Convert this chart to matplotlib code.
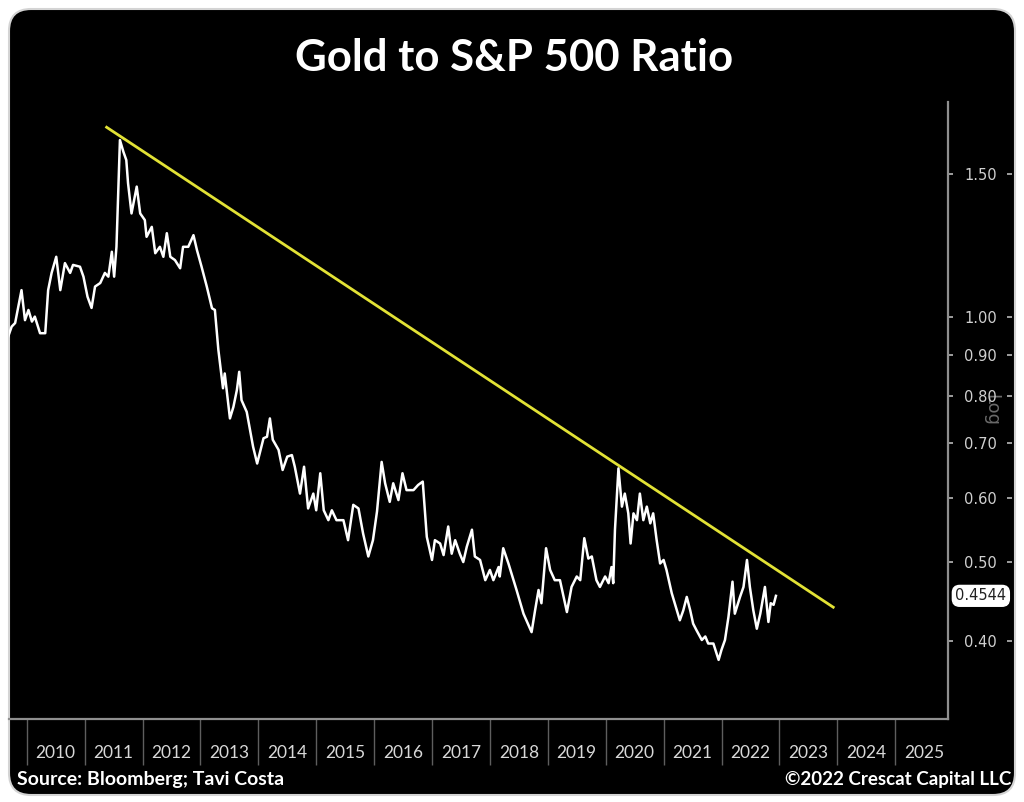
import matplotlib
matplotlib.use('Agg')
import matplotlib.pyplot as plt
from matplotlib.patches import FancyBboxPatch
from matplotlib.ticker import FixedLocator, NullLocator, NullFormatter, FixedFormatter
import matplotlib.transforms as mtransforms

dates = [
    2009.68, 2009.74, 2009.80, 2009.91, 2009.97, 2010.03, 2010.09, 2010.14, 2010.23, 2010.32,
    2010.37, 2010.43, 2010.51, 2010.58, 2010.66, 2010.75, 2010.80, 2010.92, 2010.98, 2011.05,
    2011.12, 2011.18, 2011.27, 2011.35, 2011.41, 2011.47, 2011.51, 2011.55, 2011.61, 2011.67,
    2011.72, 2011.75, 2011.81, 2011.90, 2011.96, 2012.04, 2012.07, 2012.16, 2012.22, 2012.30,
    2012.36, 2012.42, 2012.48, 2012.56, 2012.65, 2012.70, 2012.79, 2012.88, 2012.94, 2013.02,
    2013.11, 2013.20, 2013.25, 2013.31, 2013.39, 2013.42, 2013.51, 2013.57, 2013.63, 2013.67,
    2013.71, 2013.80, 2013.91, 2013.98, 2014.09, 2014.15, 2014.20, 2014.25, 2014.35, 2014.42,
    2014.50, 2014.58, 2014.63, 2014.72, 2014.79, 2014.86, 2014.95, 2015.00, 2015.07, 2015.13,
    2015.21, 2015.27, 2015.35, 2015.47, 2015.55, 2015.64, 2015.73, 2015.81, 2015.90, 2015.98,
    2016.05, 2016.13, 2016.19, 2016.27, 2016.33, 2016.42, 2016.49, 2016.56, 2016.68, 2016.76,
    2016.84, 2016.91, 2017.00, 2017.05, 2017.14, 2017.20, 2017.28, 2017.34, 2017.40, 2017.48,
    2017.54, 2017.60, 2017.69, 2017.74, 2017.83, 2017.92, 2018.00, 2018.06, 2018.15, 2018.17,
    2018.23, 2018.32, 2018.46, 2018.58, 2018.72, 2018.78, 2018.84, 2018.89, 2018.97, 2019.04,
    2019.12, 2019.21, 2019.33, 2019.41, 2019.50, 2019.56, 2019.63, 2019.70, 2019.76, 2019.84,
    2019.90, 2019.99, 2020.05, 2020.10, 2020.13, 2020.16, 2020.22, 2020.28, 2020.33, 2020.39,
    2020.43, 2020.48, 2020.54, 2020.59, 2020.65, 2020.71, 2020.77, 2020.82, 2020.88, 2020.94,
    2021.00, 2021.05, 2021.14, 2021.23, 2021.28, 2021.34, 2021.40, 2021.46, 2021.51, 2021.57,
    2021.66, 2021.72, 2021.77, 2021.86, 2021.95, 2022.00, 2022.06, 2022.12, 2022.19, 2022.23,
    2022.32, 2022.38, 2022.44, 2022.49, 2022.55, 2022.61, 2022.67, 2022.75, 2022.81, 2022.85,
    2022.90, 2022.94,
]

ratio = [
    0.947, 0.974, 0.984, 1.080, 0.992, 1.021, 0.988, 1.002, 0.956, 0.956,
    1.080, 1.134, 1.187, 1.080, 1.166, 1.134, 1.160, 1.154, 1.122, 1.060,
    1.027, 1.091, 1.102, 1.134, 1.122, 1.204, 1.122, 1.221, 1.652, 1.598,
    1.561, 1.462, 1.342, 1.448, 1.342, 1.317, 1.256, 1.292, 1.199, 1.221,
    1.187, 1.269, 1.187, 1.176, 1.149, 1.221, 1.221, 1.262, 1.210, 1.154,
    1.091, 1.026, 1.021, 0.912, 0.818, 0.853, 0.751, 0.776, 0.814, 0.857,
    0.791, 0.765, 0.693, 0.661, 0.710, 0.713, 0.751, 0.707, 0.687, 0.649,
    0.674, 0.677, 0.655, 0.607, 0.655, 0.582, 0.607, 0.579, 0.643, 0.579,
    0.563, 0.579, 0.563, 0.563, 0.532, 0.588, 0.582, 0.542, 0.508, 0.532,
    0.577, 0.664, 0.625, 0.593, 0.625, 0.596, 0.643, 0.613, 0.613, 0.622,
    0.628, 0.537, 0.503, 0.532, 0.527, 0.510, 0.553, 0.512, 0.532, 0.512,
    0.500, 0.522, 0.548, 0.508, 0.503, 0.475, 0.489, 0.475, 0.493, 0.480,
    0.520, 0.498, 0.462, 0.432, 0.410, 0.436, 0.462, 0.445, 0.520, 0.489,
    0.475, 0.475, 0.434, 0.466, 0.480, 0.475, 0.535, 0.505, 0.508, 0.475,
    0.466, 0.480, 0.471, 0.493, 0.471, 0.548, 0.652, 0.585, 0.607, 0.574,
    0.527, 0.574, 0.563, 0.607, 0.563, 0.585, 0.558, 0.574, 0.532, 0.498,
    0.503, 0.489, 0.458, 0.436, 0.424, 0.436, 0.453, 0.436, 0.420, 0.412,
    0.401, 0.405, 0.397, 0.397, 0.379, 0.390, 0.401, 0.428, 0.473, 0.432,
    0.453, 0.466, 0.503, 0.466, 0.436, 0.414, 0.432, 0.466, 0.422, 0.445,
    0.443, 0.4544,
]

trend_dates = [2011.38, 2023.93]
trend_vals = [1.713, 0.440]

ytick_vals = [0.40, 0.50, 0.60, 0.70, 0.80, 0.90, 1.00, 1.50]
ytick_labels = ['0.40', '0.50', '0.60', '0.70', '0.80', '0.90', '1.00', '1.50']
years = list(range(2010, 2026))
year_labels = [str(y) for y in years]
last_value = 0.4544
last_label = '0.4544'

title = 'Gold to S&P 500 Ratio'
source = 'Source: Bloomberg; Tavi Costa'
credit = '\u00a92022 Crescat Capital LLC'

CAL = ['Lato', 'DejaVu Sans']

W, H = 1024, 802
fig = plt.figure(figsize=(W / 100, H / 100), dpi=100)
fig.patch.set_facecolor('white')

bg = fig.add_axes([0, 0, 1, 1])
bg.set_xlim(0, W)
bg.set_ylim(H, 0)
bg.axis('off')
bg.add_patch(FancyBboxPatch((9, 9), 1006, 786,
                            boxstyle='round,pad=0,rounding_size=22',
                            fc='black', ec='#d4d4d4', lw=1.5, zorder=1))

ax = fig.add_axes([9 / W, (H - 719) / H, 939 / W, 617 / H])
ax.set_facecolor('none')
ax.set_yscale('log')
ax.plot(dates, ratio, color='white', lw=1.8, solid_joinstyle='round', zorder=3)
ax.plot(trend_dates, trend_vals, color='#e2e235', lw=2.0, zorder=4)
ax.set_xlim(2009.694, 2025.912)
ax.set_ylim(0.3206, 1.84)

ax2 = ax.twinx()
ax2.set_yscale('log')
ax2.set_ylim(0.3206, 1.84)
for s in ax2.spines.values():
    s.set_visible(False)
ax2.spines['right'].set_position(('outward', 46))
ax2.yaxis.set_major_locator(FixedLocator(ytick_vals))
ax2.yaxis.set_minor_locator(NullLocator())
ax2.yaxis.set_major_formatter(NullFormatter())
ax2.tick_params(axis='y', direction='in', length=3.5, width=1.2, color='#b8b8b8')

ax.yaxis.tick_right()
ax.yaxis.set_major_locator(FixedLocator(ytick_vals))
ax.yaxis.set_minor_locator(NullLocator())
ax.yaxis.set_major_formatter(FixedFormatter(ytick_labels))
ax.yaxis.set_minor_formatter(NullFormatter())
ax.tick_params(axis='y', which='major', direction='out', length=3.5, width=1.2,
               color='#b8b8b8', labelcolor='#d0d0d0', labelsize=10.5, pad=8)

ax.xaxis.set_major_locator(FixedLocator(years))
ax.xaxis.set_major_formatter(NullFormatter())
ax.xaxis.set_minor_locator(FixedLocator([y + 0.5 for y in years]))
ax.xaxis.set_minor_formatter(FixedFormatter(year_labels))
ax.tick_params(axis='x', which='major', direction='out', length=33, width=1,
               color='#5e5e5e')
ax.tick_params(axis='x', which='minor', length=0, pad=19, labelcolor='#d8d8d8',
               labelsize=12.5)
for lbl in ax.get_xticklabels(minor=True):
    lbl.set_family(CAL)

for side in ('left', 'top'):
    ax.spines[side].set_visible(False)
for side in ('right', 'bottom'):
    ax.spines[side].set_color('#8f8f8f')
    ax.spines[side].set_linewidth(1.6)

blend = mtransforms.blended_transform_factory(ax.transAxes, ax.transData)
ax.text(1.035, last_value, last_label, transform=blend, ha='center', va='center',
        fontsize=10.5, color='#222222', zorder=6, clip_on=False,
        bbox=dict(boxstyle='round,pad=0.2,rounding_size=0.5', fc='white', ec='white'))

bg.text(991, 410, 'Log', rotation=270, ha='center', va='center', color='#6a6a6a',
        fontsize=13, zorder=2)

bg.text(514, 58, title, ha='center', va='center', color='white', fontsize=31.5,
        fontweight='bold', family=CAL, zorder=3)
bg.text(17, 779, source, ha='left', va='center', color='white', fontsize=14,
        fontweight='bold', family=CAL, zorder=3)
bg.text(1011, 779, credit, ha='right', va='center', color='white', fontsize=13.5,
        fontweight='bold', family=CAL, zorder=3)

fig.savefig('out.png', dpi=100, facecolor=fig.get_facecolor())
